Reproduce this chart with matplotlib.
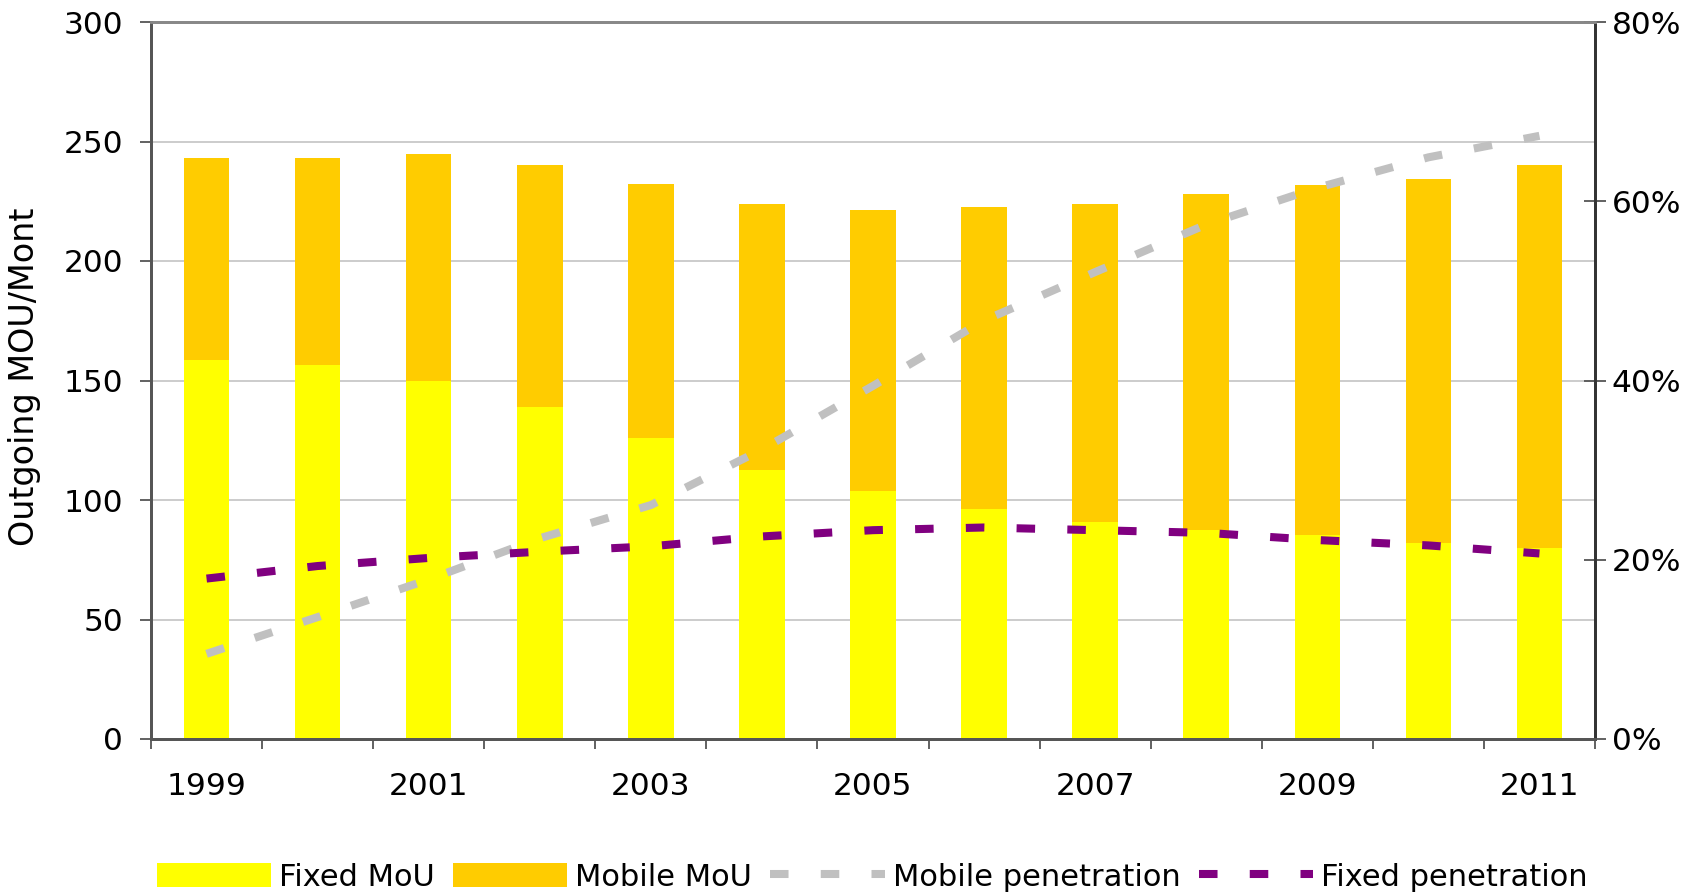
import matplotlib
matplotlib.use("Agg")
import matplotlib.pyplot as plt
import numpy as np
from matplotlib.patches import Patch
from matplotlib.lines import Line2D

years = ["1999", "2000", "2001", "2002", "2003", "2004", "2005",
         "2006", "2007", "2008", "2009", "2010", "2011"]
fixed_mou = [158.5, 156.4, 149.7, 138.8, 125.9, 112.7, 103.9, 96.4, 91.0, 87.6, 85.5, 82.1, 80.0]
mobile_mou = [84.8, 86.9, 95.1, 101.2, 106.4, 111.2, 117.5, 126.2, 133.0, 140.6, 146.1, 152.4, 160.0]
mobile_pen = [9.5, 13.6, 17.8, 22.4, 26.1, 32.3, 39.4, 46.7, 52.1, 57.4, 61.5, 64.9, 67.3]
fixed_pen = [17.9, 19.3, 20.2, 20.9, 21.5, 22.6, 23.3, 23.6, 23.3, 23.0, 22.2, 21.6, 20.7]
left_ticks = [0, 50, 100, 150, 200, 250, 300]
right_ticks = [0, 20, 40, 60, 80]

plt.rcParams['font.family'] = ['DejaVu Sans']
FS = 22.5

fig = plt.figure(figsize=(17.06, 8.94), dpi=100)
ax = fig.add_axes([151/1706, 1-739/894, (1595-151)/1706, (739-22)/894])
ax2 = ax.twinx()

x = np.arange(len(years))
w = 0.41
c_fixed = '#FFFF00'
c_mobile = '#FFCC00'
c_mpen = '#C0C0C0'
c_fpen = '#800080'

ax.bar(x, fixed_mou, width=w, color=c_fixed, zorder=2)
ax.bar(x, mobile_mou, width=w, bottom=fixed_mou, color=c_mobile, zorder=2)

ax.set_xlim(-0.5, len(years) - 0.5)
ax.set_ylim(0, 300)
ax.set_yticks(left_ticks)
ax.set_yticklabels([str(v) for v in left_ticks], fontsize=FS)
ax.set_axisbelow(True)
ax.yaxis.grid(True, color='#c8c8c8', linewidth=1.3)
ax.tick_params(axis='y', direction='out', length=8, width=1.3, color='#555555', pad=12)

# x ticks at category boundaries, labels at every other year
ax.set_xticks(np.arange(-0.5, len(years), 1.0))
ax.set_xticklabels([])
ax.tick_params(axis='x', which='major', direction='out', length=7, width=1.3, color='#555555')
ax.set_xticks(x[::2], minor=True)
ax.set_xticklabels(years[::2], minor=True, fontsize=FS)
ax.tick_params(axis='x', which='minor', length=0, pad=24)

ls = (0, (2.3, 4.0))
ax2.plot(x, mobile_pen, color=c_mpen, linewidth=5.8, linestyle=ls, dash_capstyle='butt')
ax2.plot(x, fixed_pen, color=c_fpen, linewidth=5.8, linestyle=ls, dash_capstyle='butt')
ax2.set_ylim(0, 80)
ax2.set_yticks(right_ticks)
ax2.set_yticklabels([f"{v}%" for v in right_ticks], fontsize=FS)
ax2.tick_params(axis='y', direction='inout', length=16, width=1.3, color='#555555', pad=4)

for a in (ax, ax2):
    a.spines['left'].set_color('#555555')
    a.spines['left'].set_linewidth(2)
    a.spines['top'].set_color('#888888')
    a.spines['top'].set_linewidth(2)
    a.spines['bottom'].set_color('#555555')
    a.spines['bottom'].set_linewidth(2)
    a.spines['right'].set_color('#333333')
    a.spines['right'].set_linewidth(2)

fig.text(25/1706, 1-377/894, "Outgoing MOU/Mont", rotation=90, ha='center', va='center', fontsize=24)

handles = [Patch(facecolor=c_fixed, edgecolor='none'),
           Patch(facecolor=c_mobile, edgecolor='none'),
           Line2D([], [], color=c_mpen, linewidth=5.8, linestyle=(0, (2.3, 4.0))),
           Line2D([], [], color=c_fpen, linewidth=5.8, linestyle=(0, (2.3, 4.0)))]
labels = ["Fixed MoU", "Mobile MoU", "Mobile penetration", "Fixed penetration"]
fig.legend(handles, labels, loc='center', bbox_to_anchor=(872/1706, 1-877/894), ncol=4,
           frameon=False, fontsize=22, handlelength=3.75, handleheight=0.8,
           handletextpad=0.25, columnspacing=0.6, borderpad=0, borderaxespad=0)

fig.savefig("out.png", dpi=100)
